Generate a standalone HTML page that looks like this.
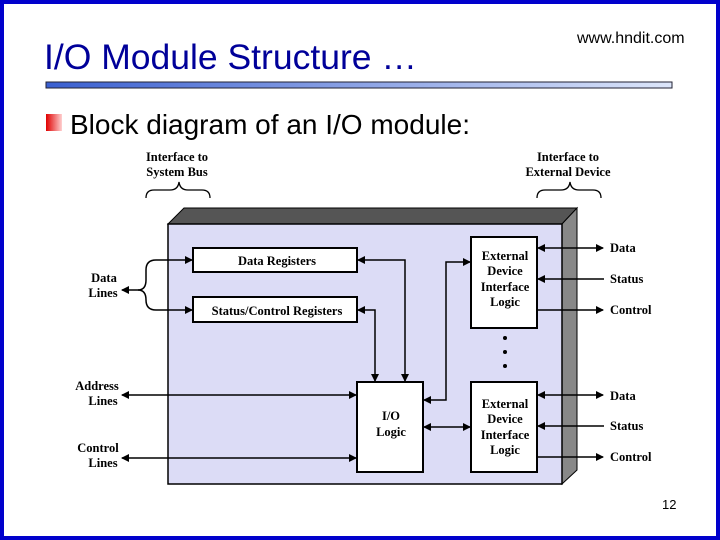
<!DOCTYPE html>
<html><head><style>
body{margin:0;background:#fff;}
.page{position:relative;width:720px;height:540px;overflow:hidden;font-family:"Liberation Sans",sans-serif;}
</style></head><body><div class="page">
<svg width="720" height="540" viewBox="0 0 720 540" xmlns="http://www.w3.org/2000/svg">
<defs>
<linearGradient id="bar" x1="0" x2="1"><stop offset="0" stop-color="#3a5fd0"/><stop offset="1" stop-color="#dde6fa"/></linearGradient>
<linearGradient id="bul" x1="0" x2="1"><stop offset="0" stop-color="#e00000"/><stop offset="1" stop-color="#ffd0d0"/></linearGradient>
<marker id="a" markerWidth="8" markerHeight="8" refX="7" refY="4" orient="auto-start-reverse" markerUnits="userSpaceOnUse"><path d="M0,0 L8,4 L0,8 z" fill="#000"/></marker>
</defs>
<rect x="2" y="2" width="716" height="536" fill="none" stroke="#0000cc" stroke-width="4"/>
<text x="44" y="69" font-size="35.5" fill="#000099" font-family="Liberation Sans">I/O Module Structure …</text>
<text x="577" y="43" font-size="16" fill="#000">www.hndit.com</text>
<rect x="46" y="82" width="626" height="6" fill="url(#bar)" stroke="#223" stroke-width="1"/>
<rect x="46" y="114" width="16" height="17" fill="url(#bul)"/>
<text x="70" y="134" font-size="28" fill="#000">Block diagram of an I/O module:</text>
<text x="662" y="509" font-size="13" fill="#000">12</text>

<g font-family="Liberation Serif" font-weight="bold" font-size="12.5" fill="#000" stroke="#000">
<polygon points="168,224 184,208 577,208 562,224" fill="#555" stroke="#000"/>
<polygon points="562,224 577,208 577,470 562,484" fill="#888" stroke="#000"/>
<rect x="168" y="224" width="394" height="260" fill="#dcdcf6" stroke="#000" stroke-width="1.5"/>
<path d="M146,198 q0,-8 8,-8 h16 q8,0 9,-8 q1,8 9,8 h14 q8,0 8,8" fill="none" stroke-width="1.3"/>
<path d="M537,198 q0,-8 8,-8 h16 q8,0 9,-8 q1,8 9,8 h14 q8,0 8,8" fill="none" stroke-width="1.3"/>
<g fill="#fff" stroke-width="2">
<rect x="193" y="248" width="164" height="24"/>
<rect x="193" y="297" width="164" height="25"/>
<rect x="471" y="237" width="66" height="91"/>
<rect x="471" y="382" width="66" height="90"/>
<rect x="357" y="382" width="66" height="90"/>
</g>
<g stroke="none" text-anchor="middle">
<text x="177" y="161">Interface to</text><text x="177" y="176">System Bus</text>
<text x="568" y="161">Interface to</text><text x="568" y="176">External Device</text>
<text x="104" y="282">Data</text><text x="103" y="297">Lines</text>
<text x="97" y="390">Address</text><text x="103" y="405">Lines</text>
<text x="98" y="452">Control</text><text x="103" y="467">Lines</text>
<text x="277" y="265">Data Registers</text>
<text x="277" y="315">Status/Control Registers</text>
<text x="391" y="420">I/O</text><text x="391" y="436">Logic</text>
<text x="505" y="260">External</text><text x="505" y="275">Device</text><text x="505" y="291">Interface</text><text x="505" y="306">Logic</text>
<text x="505" y="408">External</text><text x="505" y="423">Device</text><text x="505" y="439">Interface</text><text x="505" y="454">Logic</text>
</g>
<g stroke="none" text-anchor="start">
<text x="610" y="252">Data</text><text x="610" y="283">Status</text><text x="610" y="314">Control</text>
<text x="610" y="400">Data</text><text x="610" y="430">Status</text><text x="610" y="461">Control</text>
</g>
<g fill="none" stroke-width="1.5">
<path d="M122,290 H138 Q146,290 146,280 V270 Q146,260 156,260 H192" marker-start="url(#a)" marker-end="url(#a)"/>
<path d="M138,290 Q146,290 146,300 V300 Q146,310 156,310 H192" marker-end="url(#a)"/>
<path d="M358,260 H405 V381" marker-start="url(#a)" marker-end="url(#a)"/>
<path d="M358,310 H375 V381" marker-start="url(#a)" marker-end="url(#a)"/>
<path d="M424,400 H446 V262 H470" marker-start="url(#a)" marker-end="url(#a)"/>
<line x1="424" y1="427" x2="470" y2="427" marker-start="url(#a)" marker-end="url(#a)"/>
<line x1="122" y1="395" x2="356" y2="395" marker-start="url(#a)" marker-end="url(#a)"/>
<line x1="122" y1="458" x2="356" y2="458" marker-start="url(#a)" marker-end="url(#a)"/>
<line x1="538" y1="248" x2="603" y2="248" marker-start="url(#a)" marker-end="url(#a)"/>
<line x1="604" y1="279" x2="538" y2="279" marker-end="url(#a)"/>
<line x1="538" y1="310" x2="603" y2="310" marker-end="url(#a)"/>
<line x1="538" y1="395" x2="603" y2="395" marker-start="url(#a)" marker-end="url(#a)"/>
<line x1="604" y1="426" x2="538" y2="426" marker-end="url(#a)"/>
<line x1="538" y1="457" x2="603" y2="457" marker-end="url(#a)"/>
</g>
<g stroke="none"><circle cx="505" cy="338" r="2"/><circle cx="505" cy="352" r="2"/><circle cx="505" cy="366" r="2"/></g>
</g>
</svg>
</div></body></html>
